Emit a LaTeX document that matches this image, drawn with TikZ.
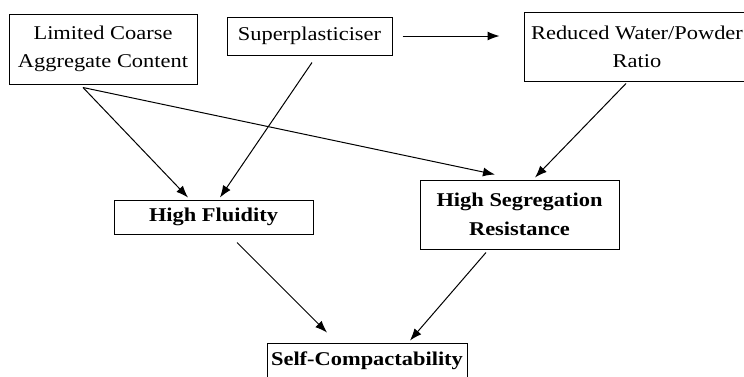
\documentclass[tikz,border=0pt]{standalone}
\usepackage{fontspec}
\setmainfont{Liberation Serif}[FakeStretch=1.15]
\usepackage{tikz}
\usetikzlibrary{arrows.meta,positioning,calc}

\begin{document}
\begin{tikzpicture}[x=1pt,y=-1pt,
    box/.style={draw, line width=1pt, inner sep=0pt, align=center,
                font=\fontsize{19.5}{28}\selectfont},
    bbox/.style={box, font=\fontsize{19.5}{29}\selectfont\bfseries},
    arr/.style={-{Latex[length=12pt,width=9pt]}, line width=1pt}]
  \useasboundingbox (0,0) rectangle (744,376);
  % causes
  \node[box, minimum width=188pt, minimum height=70pt] (lim) at (103,49)
    {Limited Coarse\\Aggregate Content};
  \node[box, minimum width=165pt, minimum height=38pt] (sup) at (309.5,36)
    {Superplasticiser};
  \node[box, minimum width=226pt, minimum height=69pt] (red) at (637,46.5)
    {Reduced Water/Powder\\Ratio};
  % properties
  \node[bbox, minimum width=199pt, minimum height=34pt] (hf) at (213.5,217)
    {High Fluidity};
  \node[bbox, minimum width=199pt, minimum height=69pt] (hsr) at (519.5,214.5)
    {High Segregation\\Resistance};
  % result
  \node[bbox, minimum width=200pt, minimum height=35pt] (sc) at (367,360.5)
    {Self-Compactability};
  % arrows
  \draw[arr] ([shift={(-20,3)}]lim.south) -- ([shift={(-25.5,-2)}]hf.north);
  \draw[arr] ([shift={(-20,3)}]lim.south) -- ([shift={(-24.5,-5)}]hsr.north);
  \draw[arr] ([shift={(2.5,7)}]sup.south) -- ([shift={(6.5,-2)}]hf.north);
  \draw[arr] ([shift={(10,0)}]sup.east) -- ([shift={(-24,0)}]sup.east -| red.west);
  \draw[arr] ([shift={(-11,2)}]red.south) -- ([shift={(15.5,-2)}]hsr.north);
  \draw[arr] ([shift={(23.5,8)}]hf.south) -- ([shift={(-40,-10)}]sc.north);
  \draw[arr] ([shift={(-33.5,3)}]hsr.south) -- ([shift={(43,-2)}]sc.north);
\end{tikzpicture}
\end{document}
